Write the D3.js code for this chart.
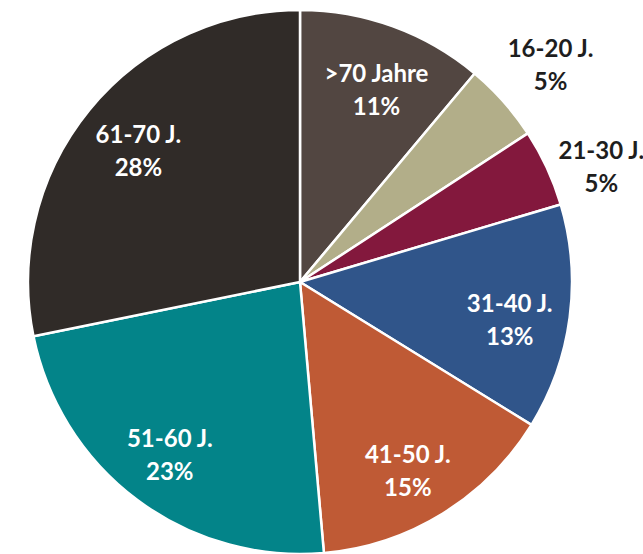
<!DOCTYPE html>
<html><head><meta charset="utf-8">
<script src="https://cdn.jsdelivr.net/npm/d3@7"></script>
<style>body{margin:0;background:#fff;} svg{display:block;}</style>
</head><body>
<svg id="c" width="643" height="554"></svg>
<script>
const categories = [">70 Jahre", "16-20 J.", "21-30 J.", "31-40 J.", "41-50 J.", "51-60 J.", "61-70 J."];
const values = [11.1, 4.7, 4.6, 13.4, 14.8, 23.2, 28.2];
const colors = ["#524641", "#b2ae89", "#83183d", "#30558a", "#bf5a35", "#038489", "#302b28"];

const svg = d3.select("#c");
const cx = 300, cy = 282, R = 272;
const g = svg.append("g").attr("transform", `translate(${cx},${cy})`);
const data = categories.map((c, i) => ({cat: c, value: values[i], color: colors[i]}));
const pie = d3.pie().value(d => d.value).sort(null);
const arcs = pie(data);
const arc = d3.arc().innerRadius(0).outerRadius(R);
g.selectAll("path").data(arcs).join("path")
  .attr("d", arc).attr("fill", d => d.data.color)
  .attr("stroke", "#fff").attr("stroke-width", 2.5).attr("stroke-linejoin", "round");

const total = d3.sum(values);
const isOut = d => d.data.value / total < 0.06;

// label positions (outside labels pushed apart to avoid overlap)
let prevOutY = null;
arcs.forEach(d => {
  const out = isOut(d);
  const r = out ? R * 1.21 : R * 0.78;
  const a = (d.startAngle + d.endAngle) / 2 + (out ? 0.02 : 0.02);
  d.lx = Math.sin(a) * r;
  d.ly = -Math.cos(a) * r + (out ? -4 : 6);
  if (out) {
    if (prevOutY !== null && d.ly < prevOutY + 102) d.ly = prevOutY + 102;
    prevOutY = d.ly;
  }
});

const labels = g.selectAll("text.lbl").data(arcs).join("text")
  .attr("class", "lbl")
  .attr("text-anchor", "middle")
  .style("font-family", "Lato, 'Open Sans', sans-serif")
  .style("font-weight", "bold")
  .style("font-size", "24px")
  .attr("fill", d => isOut(d) ? "#1e1e1e" : "#fff")
  .attr("transform", d => `translate(${d.lx},${d.ly})`);
labels.append("tspan").attr("x", 0).attr("y", -8).text(d => d.data.cat);
labels.append("tspan").attr("x", 0).attr("y", 25).text(d => Math.round(d.data.value) + "%");
</script>
</body></html>
